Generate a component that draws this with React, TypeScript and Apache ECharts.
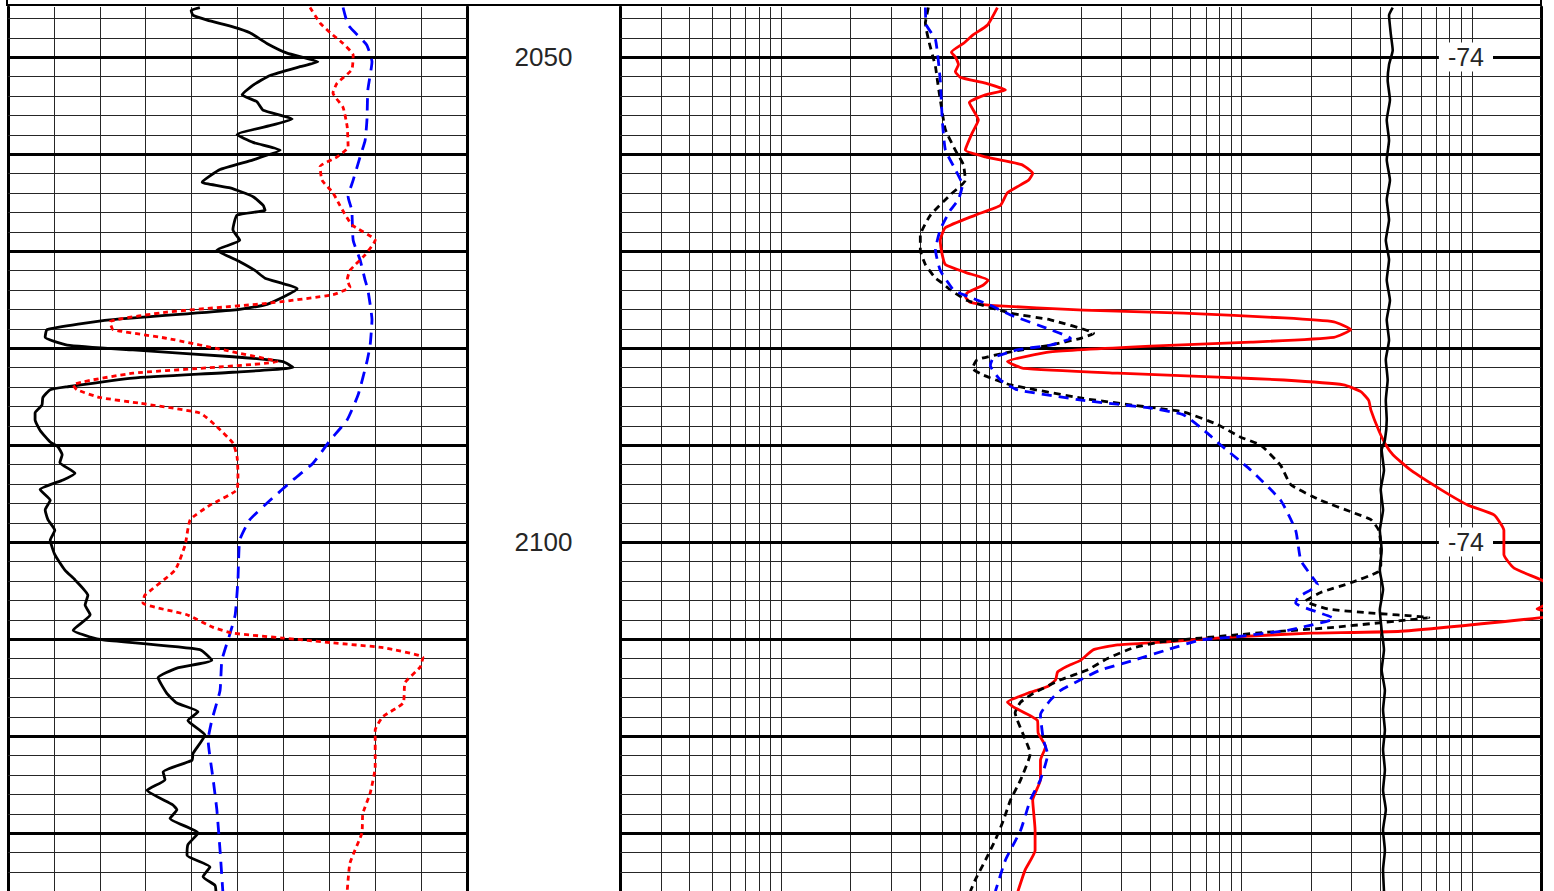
import React, { useEffect, useRef } from "react";
import * as echarts from "echarts";

const DEPTH_MIN = 2044.845;
const DEPTH_MAX = 2135.98;

const majorDepths = [2050, 2060, 2070, 2080, 2090, 2100, 2110, 2120, 2130];
const minorDepths = [2046, 2048, 2052, 2054, 2056, 2058, 2062, 2064, 2066, 2068, 2072, 2074, 2076, 2078, 2082, 2084, 2086, 2088, 2092, 2094, 2096, 2098, 2102, 2104, 2106, 2108, 2112, 2114, 2116, 2118, 2122, 2124, 2126, 2128, 2132, 2134];
const logTicks = [0.3, 0.4, 0.5, 0.6, 0.7, 0.8, 0.9, 1, 2, 3, 4, 5, 6, 7, 8, 9, 10, 20, 30, 40, 50, 60, 70, 80, 90, 100, 200, 300, 400, 500, 600, 700, 800, 900, 1000];
const depthLabels = [2050, 2100];
const spLabelDepths = [2050, 2100];
const spLabelText = "-74";
const spLabelX = -56.3;

// Left track, solid black curve (scale in chart divisions 0..10)
const grDepth = [2044.9, 2045.2, 2045.7, 2046.2, 2046.9, 2047.5, 2048.6, 2049.6, 2050.5, 2051.0, 2051.9, 2052.9, 2053.9, 2054.6, 2055.5, 2056.4, 2057.0, 2058.0, 2058.8, 2059.6, 2060.6, 2061.6, 2062.9, 2063.5, 2064.4, 2065.3, 2065.8, 2066.3, 2067.8, 2068.9, 2069.9, 2071.1, 2072.0, 2072.8, 2073.9, 2075.5, 2076.1, 2077.1, 2078.1, 2078.9, 2079.7, 2080.2, 2080.9, 2081.4, 2082.0, 2082.5, 2083.1, 2084.0, 2084.3, 2085.1, 2085.9, 2086.7, 2087.4, 2088.5, 2089.7, 2090.2, 2091.0, 2091.8, 2092.9, 2093.6, 2094.6, 2095.7, 2096.7, 2097.7, 2098.8, 2099.8, 2101.3, 2102.9, 2103.9, 2105.5, 2106.5, 2107.5, 2109.1, 2109.8, 2110.1, 2111.1, 2112.2, 2113.0, 2114.0, 2115.6, 2116.6, 2117.5, 2118.4, 2119.9, 2121.8, 2122.5, 2123.7, 2124.5, 2125.6, 2127.1, 2127.6, 2128.5, 2130.0, 2131.2, 2132.3, 2133.5, 2134.5, 2135.4, 2136.0];
const grValue = [4.18, 3.99, 4.03, 4.34, 4.90, 5.27, 5.64, 6.08, 6.75, 6.36, 5.71, 5.34, 5.10, 5.42, 5.56, 6.19, 5.77, 4.99, 5.34, 5.93, 5.34, 4.62, 4.23, 4.84, 5.34, 5.56, 5.60, 4.99, 4.90, 5.05, 4.55, 5.05, 5.38, 5.60, 6.30, 5.64, 4.90, 2.22, 0.85, 0.81, 1.29, 2.72, 4.90, 5.99, 6.21, 4.90, 2.72, 1.29, 0.92, 0.76, 0.74, 0.59, 0.59, 0.70, 0.92, 1.09, 1.18, 1.13, 1.46, 1.20, 0.70, 0.92, 0.81, 0.87, 1.02, 0.92, 1.02, 1.24, 1.46, 1.74, 1.68, 1.79, 1.42, 1.79, 2.07, 4.18, 4.44, 3.68, 3.27, 3.46, 3.68, 4.14, 3.92, 4.29, 4.03, 4.01, 3.38, 3.42, 3.03, 3.59, 3.68, 3.53, 4.14, 3.92, 3.90, 4.40, 4.25, 4.51, 4.53];

// Left track, red dotted curve
const redLDepth = [2044.9, 2046.5, 2047.5, 2048.6, 2049.8, 2051.3, 2052.7, 2053.7, 2055.2, 2057.2, 2059.3, 2060.3, 2061.3, 2062.7, 2064.0, 2065.3, 2067.3, 2068.9, 2070.4, 2072.0, 2073.0, 2073.7, 2074.5, 2075.4, 2076.3, 2077.3, 2078.1, 2079.0, 2080.4, 2081.4, 2082.1, 2082.6, 2083.8, 2084.3, 2085.1, 2085.7, 2086.7, 2088.1, 2089.8, 2091.2, 2092.9, 2094.6, 2096.2, 2097.7, 2100.3, 2102.9, 2105.5, 2106.3, 2107.5, 2108.8, 2109.4, 2109.9, 2110.4, 2110.9, 2111.9, 2112.9, 2114.5, 2116.6, 2118.0, 2119.4, 2123.2, 2125.9, 2128.0, 2130.0, 2133.1, 2136.0];
const redLValue = [6.58, 6.80, 7.02, 7.30, 7.52, 7.49, 7.17, 7.08, 7.30, 7.39, 7.41, 7.17, 6.80, 6.84, 7.08, 7.23, 7.49, 8.00, 7.78, 7.45, 7.39, 7.45, 7.08, 5.64, 3.46, 2.22, 2.29, 3.46, 4.90, 5.86, 4.18, 2.72, 1.42, 1.50, 2.00, 2.88, 4.18, 4.55, 4.90, 4.99, 5.01, 4.99, 4.40, 3.97, 3.86, 3.64, 2.98, 2.94, 3.90, 4.47, 4.90, 5.99, 7.08, 8.17, 9.04, 8.98, 8.65, 8.61, 8.17, 8.00, 8.00, 7.89, 7.73, 7.71, 7.45, 7.39];

// Left track, blue dashed curve
const blueLDepth = [2044.9, 2046.7, 2048.0, 2048.8, 2050.5, 2053.4, 2056.5, 2058.6, 2060.3, 2062.7, 2064.4, 2065.8, 2068.9, 2070.9, 2073.0, 2074.0, 2077.1, 2079.7, 2081.4, 2084.8, 2087.4, 2089.5, 2091.9, 2093.6, 2095.7, 2097.7, 2099.8, 2103.9, 2107.5, 2109.4, 2112.2, 2115.3, 2118.4, 2120.4, 2124.5, 2127.6, 2131.8, 2136.0];
const blueLValue = [7.30, 7.41, 7.67, 7.82, 7.93, 7.84, 7.82, 7.78, 7.67, 7.52, 7.41, 7.49, 7.52, 7.67, 7.78, 7.84, 7.93, 7.89, 7.82, 7.63, 7.39, 7.02, 6.64, 6.21, 5.71, 5.27, 5.05, 5.01, 4.95, 4.84, 4.66, 4.62, 4.44, 4.36, 4.47, 4.55, 4.62, 4.68];

// Right track (log 0.2 .. 2000), red solid curve
const redRDepth = [2044.9, 2046.7, 2047.7, 2048.6, 2049.5, 2050.0, 2050.8, 2051.5, 2052.1, 2052.7, 2053.4, 2053.9, 2054.7, 2056.5, 2057.8, 2059.6, 2060.3, 2061.1, 2062.0, 2062.7, 2064.0, 2065.3, 2066.3, 2067.6, 2068.9, 2070.4, 2071.4, 2072.2, 2073.0, 2073.5, 2074.3, 2074.7, 2075.3, 2075.6, 2076.1, 2076.4, 2076.9, 2077.3, 2078.1, 2078.9, 2079.4, 2079.8, 2080.4, 2081.4, 2082.1, 2082.6, 2083.0, 2083.3, 2083.8, 2084.5, 2085.4, 2086.4, 2088.5, 2090.0, 2091.0, 2092.6, 2094.6, 2096.2, 2097.2, 2098.8, 2101.3, 2102.7, 2103.9, 2105.5, 2106.9, 2107.4, 2107.8, 2109.2, 2109.4, 2109.8, 2110.3, 2110.6, 2111.1, 2112.2, 2112.8, 2113.4, 2114.2, 2114.9, 2115.6, 2116.5, 2117.0, 2118.4, 2119.7, 2121.1, 2122.5, 2124.5, 2126.6, 2129.7, 2131.8, 2133.8, 2136.0];
const redRValue = [8.71, 7.89, 6.85, 6.20, 5.50, 5.72, 5.90, 5.72, 6.02, 7.73, 9.44, 7.73, 6.58, 7.20, 6.78, 6.32, 7.73, 11.1, 12.4, 11.9, 9.63, 8.98, 6.99, 5.18, 4.92, 5.02, 5.18, 6.32, 7.96, 7.57, 6.45, 6.32, 6.65, 8.12, 20.6, 56.1, 153, 252, 299, 252, 110, 40.3, 14.8, 9.63, 11.3, 29.0, 78.9, 153, 278, 330, 357, 365, 395, 424, 455, 544, 735, 964, 1250, 1380, 1380, 1528, 2000, 2600, 1923, 2600, 2000, 492, 200, 89.8, 47.8, 29.0, 22.8, 20, 17.5, 15.9, 15.6, 14.4, 11.8, 9.63, 10.2, 13.0, 13.1, 14.1, 13.4, 13.4, 12.4, 12.7, 12.7, 11.5, 10.7];

// Right track, black dashed curve
const blackRDepth = [2044.9, 2046.5, 2048.2, 2051.0, 2052.4, 2054.4, 2057.5, 2059.6, 2061.1, 2062.7, 2064.2, 2066.3, 2068.4, 2069.9, 2071.4, 2072.8, 2073.3, 2074.0, 2075.1, 2076.4, 2077.1, 2078.5, 2079.0, 2079.7, 2080.4, 2081.2, 2082.1, 2082.8, 2083.8, 2085.2, 2085.9, 2086.6, 2087.9, 2089.2, 2090.0, 2092.1, 2094.1, 2095.7, 2097.0, 2097.7, 2098.8, 2100.3, 2102.4, 2103.1, 2104.2, 2105.2, 2106.1, 2106.9, 2107.3, 2107.8, 2108.1, 2108.8, 2109.3, 2109.6, 2109.9, 2110.3, 2110.9, 2112.0, 2113.2, 2114.2, 2115.6, 2116.5, 2117.6, 2119.9, 2121.8, 2124.5, 2126.6, 2128.7, 2130.7, 2132.8, 2134.8, 2136.0];
const blackRValue = [4.37, 4.24, 4.37, 4.69, 4.78, 4.92, 5.18, 5.72, 6.20, 6.32, 5.44, 4.46, 4.03, 4.03, 4.24, 4.69, 5.02, 5.44, 6.45, 9.93, 14.8, 22.8, 20, 14.8, 9.93, 7.13, 6.78, 7.57, 9.93, 20.6, 34.0, 56.1, 78.9, 99.3, 121, 148, 164, 221, 308, 365, 395, 403, 403, 391, 299, 221, 190, 237, 354, 652, 492, 252, 130, 92.5, 66.5, 44.6, 34.0, 26.2, 21.4, 16.4, 12.5, 11.0, 10.4, 11.3, 12.1, 11.0, 9.93, 9.25, 8.54, 7.73, 6.99, 6.65];

// Right track, blue dashed curve
const blueRDepth = [2044.9, 2046.7, 2048.2, 2052.4, 2056.5, 2059.6, 2061.6, 2063.2, 2064.7, 2065.8, 2067.8, 2069.9, 2072.0, 2074.0, 2074.5, 2075.6, 2076.6, 2078.1, 2079.0, 2079.7, 2080.2, 2081.0, 2081.8, 2083.3, 2084.3, 2085.4, 2086.2, 2086.9, 2088.8, 2090.0, 2092.6, 2095.7, 2098.8, 2101.9, 2103.4, 2104.4, 2105.7, 2106.3, 2107.9, 2108.7, 2109.1, 2109.8, 2110.1, 2111.1, 2112.2, 2113.2, 2114.2, 2115.3, 2116.3, 2117.8, 2120.4, 2121.9, 2124.5, 2126.6, 2129.7, 2132.8, 2136.0];
const blueRValue = [4.24, 4.28, 4.69, 4.92, 5.02, 5.18, 5.72, 6.14, 5.90, 5.44, 4.92, 4.69, 4.92, 5.61, 6.20, 8.12, 9.93, 14.8, 18.1, 14.8, 10.6, 8.37, 8.12, 8.98, 10.6, 20.6, 40.3, 56.1, 71.3, 81.2, 110, 148, 172, 181, 200, 214, 176, 172, 252, 190, 159, 92.5, 66.5, 47.8, 34.0, 24.4, 20, 16.4, 14.8, 13.4, 13.8, 14.4, 13.4, 12.1, 11.0, 9.44, 8.54];

// Right track, solid black SP curve (mV, own linear scale -240 .. -40)
const spDepth = [2044.9, 2045.7, 2047.7, 2049.3, 2050.8, 2052.4, 2054.4, 2056.5, 2058.6, 2060.6, 2062.7, 2064.7, 2066.8, 2068.9, 2070.9, 2073.0, 2075.1, 2077.1, 2079.2, 2081.2, 2083.3, 2085.4, 2087.4, 2089.5, 2090.5, 2092.6, 2094.6, 2096.7, 2098.8, 2100.8, 2102.9, 2104.9, 2107.0, 2109.1, 2111.1, 2113.2, 2115.3, 2117.3, 2119.4, 2121.4, 2123.5, 2125.6, 2127.6, 2129.7, 2131.8, 2133.8, 2136.0];
const spValue = [-72.2, -73.0, -72.6, -72.2, -73.0, -73.3, -72.8, -73.5, -73.0, -73.5, -72.8, -73.5, -73.0, -73.7, -73.0, -73.5, -72.8, -73.5, -73.0, -73.7, -73.3, -73.7, -73.5, -73.9, -74.6, -74.1, -74.8, -74.3, -75.0, -74.6, -75.0, -74.3, -75.0, -74.6, -74.1, -74.6, -73.9, -74.3, -73.9, -74.3, -73.9, -74.3, -73.7, -74.3, -73.9, -74.3, -74.1];

const FONT = "'Liberation Sans', Arial, sans-serif";

function pairs(xs: number[], ds: number[]) {
  return xs.map((v, i) => [v, ds[i]]);
}

function curve(xs: number[], ds: number[], xAxisIndex: number, yAxisIndex: number, color: string, type: any, width: number, z: number) {
  return {
    type: "line",
    xAxisIndex,
    yAxisIndex,
    data: pairs(xs, ds),
    symbol: "none",
    showSymbol: false,
    smooth: 0.15,
    silent: true,
    z,
    lineStyle: { color, width, type, cap: "butt", join: "round" },
  };
}

function hLines(xAxisIndex: number, yAxisIndex: number, xRef: number, depths: number[], width: number, color: string) {
  return {
    type: "custom",
    xAxisIndex,
    yAxisIndex,
    silent: true,
    clip: false,
    z: 1,
    data: depths.map((d) => [xRef, d]),
    renderItem: (params: any, api: any) => {
      const cs = params.coordSys;
      const p = api.coord([api.value(0), api.value(1)]);
      const y = width % 2 === 1 ? Math.round(p[1]) + 0.5 : Math.round(p[1]);
      return {
        type: "line",
        shape: { x1: cs.x, y1: y, x2: cs.x + cs.width, y2: y },
        style: { stroke: color, lineWidth: width },
      };
    },
  };
}

function vLines(xAxisIndex: number, yAxisIndex: number, values: number[], color: string) {
  return {
    type: "custom",
    xAxisIndex,
    yAxisIndex,
    silent: true,
    clip: false,
    z: 1,
    data: values.map((v) => [v, DEPTH_MIN]),
    renderItem: (params: any, api: any) => {
      const cs = params.coordSys;
      const p = api.coord([api.value(0), api.value(1)]);
      const x = Math.round(p[0]) + 0.5;
      return {
        type: "line",
        shape: { x1: x, y1: cs.y, x2: x, y2: cs.y + cs.height },
        style: { stroke: color, lineWidth: 1 },
      };
    },
  };
}

function textLabels(xAxisIndex: number, yAxisIndex: number, points: number[][], getText: (v: number) => string, fontSize: number, boxed: boolean) {
  return {
    type: "custom",
    xAxisIndex,
    yAxisIndex,
    silent: true,
    clip: false,
    z: 20,
    zlevel: 0,
    data: points,
    renderItem: (params: any, api: any) => {
      const p = api.coord([api.value(0), api.value(1)]);
      const style: any = {
        text: getText(api.value(1)),
        fontSize,
        fontFamily: FONT,
        fill: "#262626",
        align: "center",
        verticalAlign: "middle",
      };
      if (boxed) {
        style.backgroundColor = "#ffffff";
        style.padding = [2, 9, 2, 9];
      }
      return { type: "text", x: p[0], y: p[1], z2: 100, style };
    },
  };
}

export default function App() {
  const ref = useRef<HTMLDivElement>(null);

  useEffect(() => {
    if (!ref.current) return;
    const chart = echarts.init(ref.current, undefined, { renderer: "svg" });

    const yBase = {
      type: "value",
      inverse: true,
      min: DEPTH_MIN,
      max: DEPTH_MAX,
      axisLabel: { show: false },
      axisTick: { show: false },
      splitLine: { show: false },
    };
    const border = (gridIndex: number, position: string) => ({
      ...yBase,
      gridIndex,
      position,
      axisLine: { show: true, onZero: false, lineStyle: { color: "#000", width: 3 } },
    });

    const option: any = {
      animation: false,
      backgroundColor: "#fff",
      grid: [
        { left: 8, top: 7, width: 459, height: 884 },
        { left: 467, top: 7, width: 153, height: 884 },
        { left: 620, top: 7, width: 921, height: 884 },
      ],
      xAxis: [
        {
          type: "value",
          gridIndex: 0,
          min: 0,
          max: 10,
          interval: 1,
          axisLine: { show: false },
          axisTick: { show: false },
          axisLabel: { show: false },
          splitLine: { show: true, lineStyle: { color: "#262626", width: 1 } },
        },
        { type: "value", gridIndex: 1, min: 0, max: 1, show: false },
        { type: "log", gridIndex: 2, logBase: 10, min: 0.2, max: 2000, show: false },
        { type: "value", gridIndex: 2, min: -240, max: -40, show: false },
      ],
      yAxis: [
        border(0, "left"),
        border(0, "right"),
        { ...yBase, gridIndex: 1, show: false },
        border(2, "left"),
        border(2, "right"),
      ],
      graphic: [
        {
          type: "polyline",
          silent: true,
          shape: { points: [[7, -4], [7, 5], [1541, 5], [1541, -4]] },
          style: { stroke: "#000", lineWidth: 2, fill: "none" },
        },
      ],
      series: [
        // grid lines
        hLines(0, 0, 0, minorDepths, 1, "#262626"),
        hLines(0, 0, 0, majorDepths, 3, "#000"),
        vLines(2, 3, logTicks, "#262626"),
        hLines(2, 3, 0.2, minorDepths, 1, "#262626"),
        hLines(2, 3, 0.2, majorDepths, 3, "#000"),

        // left track curves
        curve(grValue, grDepth, 0, 0, "#000", "solid", 2.8, 3),
        curve(blueLValue, blueLDepth, 0, 0, "#0000ff", [12, 8], 2.8, 4),
        curve(redLValue, redLDepth, 0, 0, "#ff0000", [5, 4], 2.8, 5),

        // right track curves
        curve(redRValue, redRDepth, 2, 3, "#ff0000", "solid", 2.8, 3),
        curve(blackRValue, blackRDepth, 2, 3, "#000", [7, 5], 2.8, 4),
        curve(blueRValue, blueRDepth, 2, 3, "#0000ff", [10, 7], 2.8, 5),
        curve(spValue, spDepth, 3, 3, "#000", "solid", 2.6, 6),

        // depth labels
        textLabels(1, 2, depthLabels.map((d) => [0.5, d]), (v) => String(v), 26, false),
        // SP scale labels
        textLabels(3, 3, spLabelDepths.map((d) => [spLabelX, d]), () => spLabelText, 25, true),
      ],
    };

    chart.setOption(option);
    return () => chart.dispose();
  }, []);

  return (
    <div
      ref={ref}
      style={{ position: "fixed", left: 0, top: 0, width: 1554, height: 891, background: "#fff" }}
    />
  );
}
